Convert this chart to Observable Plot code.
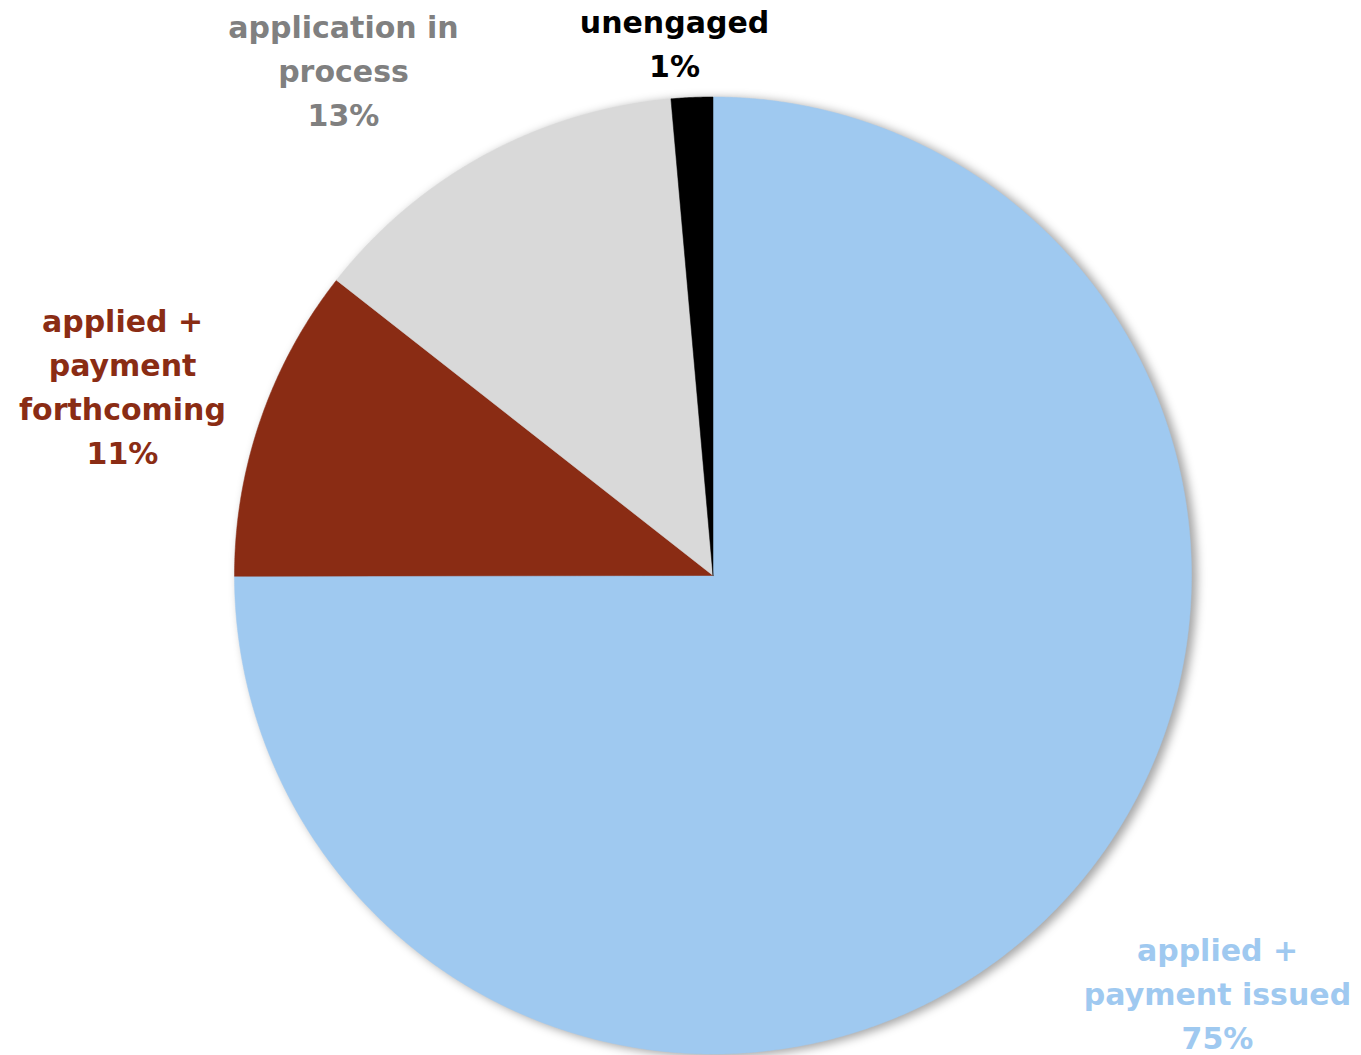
<!DOCTYPE html>
<html>
<head>
<meta charset="utf-8">
<script src="https://cdn.jsdelivr.net/npm/d3@7"></script>
<script src="https://cdn.jsdelivr.net/npm/@observablehq/plot@0.6"></script>
<style>
  html, body { margin: 0; padding: 0; background: #fff; }
  #chart svg { display: block; }
</style>
</head>
<body>
<div id="chart"></div>
<script>
// ---- data ----
const categories = [
  "applied +\npayment issued",
  "applied +\npayment\nforthcoming",
  "application in\nprocess",
  "unengaged"
];
const values = [74.9, 10.6, 13.0, 1.4];

// ---- styles / layout (not data) ----
const sliceColors = ["#9FC9F0", "#8A2C14", "#D9D9D9", "#000000"];
const labelColors = ["#9FC9F0", "#8A2C14", "#808080", "#000000"];
const W = 1361, H = 1055;
const cx = 712.5, cy = 575, R = 478.5;
// label block centers in pixels
const labelPx = [[1217, 990], [122, 383], [343, 67], [674, 40]];

const total = d3.sum(values);
const pct = d3.format(".0%");
const rows = categories.map((c, i) => ({category: c, value: values[i], i}));

const arcs = d3.pie().sort(null).value(d => d.value)(rows);

// polygon vertices in unit-radius coordinates derived from the pie angles
const poly = [];
arcs.forEach(a => {
  const cat = a.data.category;
  poly.push({category: cat, x: 0, y: 0});
  const n = Math.max(2, Math.ceil((a.endAngle - a.startAngle) / (Math.PI / 720)));
  for (let k = 0; k <= n; k++) {
    const t = a.startAngle + (a.endAngle - a.startAngle) * k / n;
    poly.push({category: cat, x: Math.sin(t), y: Math.cos(t)});
  }
  poly.push({category: cat, x: 0, y: 0});
});

const labels = rows.map((r, i) => ({
  category: r.category,
  text: r.category + "\n" + pct(r.value / total),
  x: (labelPx[i][0] - cx) / R,
  y: (cy - labelPx[i][1]) / R
}));

const xDomain = [-cx / R, (W - cx) / R];
const yDomain = [-(H - cy) / R, cy / R];

const chart = Plot.plot({
  width: W,
  height: H,
  margin: 0,
  x: {domain: xDomain, axis: null},
  y: {domain: yDomain, axis: null},
  color: {domain: categories, range: sliceColors},
  style: {background: "#fff"},
  marks: [
    // soft shadow
    Plot.dot([{x: 0.01, y: -0.004}], {x: "x", y: "y", r: R + 1, fill: "#000", fillOpacity: 0.35, stroke: "none"}),
    Plot.line(poly, {x: "x", y: "y", z: "category", fill: "category", stroke: "category", strokeWidth: 0.5, curve: "linear"}),
    Plot.text(labels, {
      x: "x", y: "y", text: "text",
      fill: (d, i) => labelColors[i],
      fontSize: 30, fontWeight: "bold",
      fontFamily: "DejaVu Sans",
      lineHeight: 1.467,
      lineAnchor: "middle",
      textAnchor: "middle"
    })
  ]
});

d3.select(chart).selectAll("g[aria-label=dot] circle").style("filter", "blur(5px)");
document.getElementById("chart").appendChild(chart);
</script>
</body>
</html>
